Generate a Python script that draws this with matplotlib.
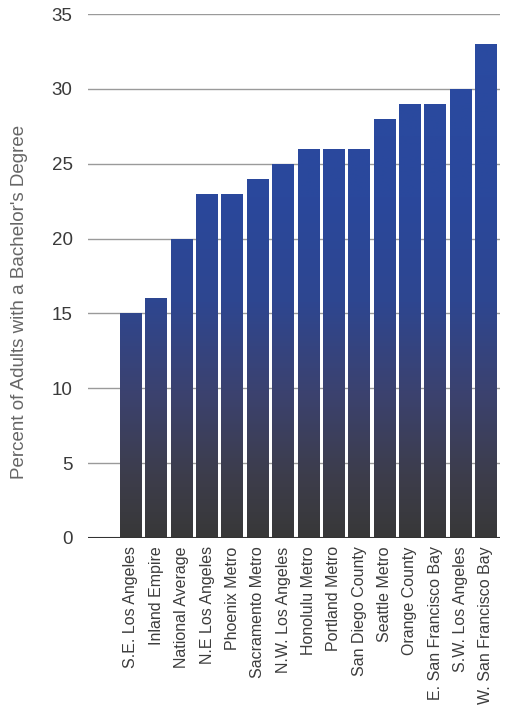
import numpy as np
import matplotlib.pyplot as plt
from matplotlib.colors import LinearSegmentedColormap

# Share of adults holding a bachelor's degree, by region
regions = [
    'S.E. Los Angeles', 'Inland Empire', 'National Average', 'N.E Los Angeles',
    'Phoenix Metro', 'Sacramento Metro', 'N.W. Los Angeles', 'Honolulu Metro',
    'Portland Metro', 'San Diego County', 'Seattle Metro', 'Orange County',
    'E. San Francisco Bay', 'S.W. Los Angeles', 'W. San Francisco Bay',
]
percent = [15, 16, 20, 23, 23, 24, 25, 26, 26, 26, 28, 29, 29, 30, 33]
y_ticks = [0, 5, 10, 15, 20, 25, 30, 35]

plt.rcParams['font.family'] = ['Liberation Sans', 'DejaVu Sans']

fig = plt.figure(figsize=(5.08, 7.15), dpi=100)
ax = fig.add_axes([0.173, 0.2476, 0.811, 0.7328])

x = np.arange(len(percent))
bars = ax.bar(x, percent, width=0.86, color='none', edgecolor='none', zorder=2)

# vertical gradient (dark grey at the base, blue towards the top), fixed in data space
cmap = LinearSegmentedColormap.from_list(
    'bar_grad',
    [(0.0, '#383838'), (0.12, '#3d3d4c'), (0.28, '#3b4270'),
     (0.45, '#2e4690'), (0.65, '#2a489c'), (1.0, '#2a4ba2')])
grad = np.linspace(0, 1, 256).reshape(-1, 1)
x_lo, x_hi = -1.7, 14.55
for b in bars:
    im = ax.imshow(grad, cmap=cmap, origin='lower', aspect='auto',
                   extent=(x_lo, x_hi, 0, 35), zorder=2)
    im.set_clip_path(b)

ax.set_xlim(x_lo, x_hi)
ax.set_ylim(0, 35)

ax.set_yticks(y_ticks)
ax.yaxis.grid(True, color='#9a9a9a', linewidth=1.0)
ax.set_axisbelow(True)
ax.axhline(0, color='#333333', linewidth=1.5, zorder=3)

ax.set_xticks(x)
ax.set_xticklabels(regions, rotation=90, fontsize=11.5, color='#3c3c3c')
ax.tick_params(axis='x', length=0, pad=6)
ax.tick_params(axis='y', length=0, pad=11, labelsize=13.5, labelcolor='#3a3a3a')

for s in ax.spines.values():
    s.set_visible(False)

ax.set_ylabel("Percent of Adults with a Bachelor's Degree",
              fontsize=13.5, color='#666666')
ax.yaxis.set_label_coords(-0.145, 0.45)

fig.savefig('out.png', dpi=100)
